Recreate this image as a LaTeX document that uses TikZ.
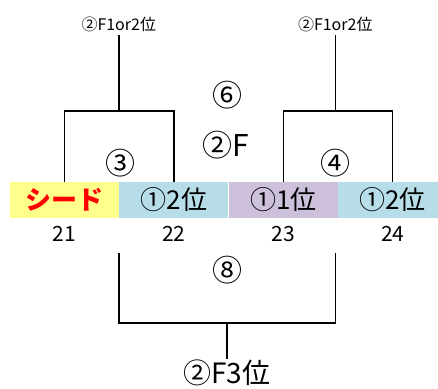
\documentclass[tikz,border=0pt]{standalone}
\usepackage{fontspec}
\setmainfont{Noto Sans CJK JP}
\usetikzlibrary{positioning}
\definecolor{seedyellow}{RGB}{255,255,140}
\definecolor{slotblue}{RGB}{183,221,232}
\definecolor{slotpurple}{RGB}{204,192,218}
\tikzset{
  slot/.style={minimum width=109pt, minimum height=36pt, inner sep=0pt, font=\fontsize{26}{26}\selectfont},
  num/.style={font=\fontsize{21}{21}\selectfont},
  game/.style={font=\fontsize{30}{30}\selectfont},
  from/.style={font=\fontsize{16}{16}\selectfont},
  bracket/.style={line width=1.5pt}
}
\begin{document}
\begin{tikzpicture}[x=1pt,y=-1pt]
  \useasboundingbox (0,0) rectangle (438,388);

  % the four slots
  \node[slot, fill=seedyellow, text=red] (s21) at (64.5,200) {\bfseries シード};
  \node[slot, fill=slotblue, right=0pt of s21] (s22) {①2位};
  \node[slot, fill=slotpurple, right=0pt of s22] (s23) {①1位};
  \node[slot, fill=slotblue, right=0pt of s23] (s24) {①2位};

  \node[num, below=5pt of s21] (n21) {21};
  \node[num, below=5pt of s22] (n22) {22};
  \node[num, below=5pt of s23] (n23) {23};
  \node[num, below=5pt of s24] (n24) {24};

  % game numbers
  \node[game] (g3) at (120,163) {③};
  \node[game] (g4) at (335,163) {④};
  \node[game] (g2f) at (226,145) {②F};
  \node[game] (g6) at (227,95) {⑥};
  \node[game] (g8) at (227,270) {⑧};

  % where the winners come from
  \node[from] (w3) at (118.75,24) {②F1or2位};
  \node[from] (w4) at (335.25,24) {②F1or2位};
  \node[game, font=\fontsize{28}{28}\selectfont, inner sep=1pt] (l8) at (227,373) {②F3位};

  \coordinate (c3) at (118.75,111);
  \coordinate (c4) at (335.25,111);
  \coordinate (b22) at (118.75,253);
  \coordinate (b24) at (335.25,253);
  \coordinate (c8) at (227,323);

  \draw[bracket] (s21.north) |- (c3) -| (s22.north);
  \draw[bracket] (c3) -- (w3.south);
  \draw[bracket] (s23.north) |- (c4) -| (s24.north);
  \draw[bracket] (c4) -- (w4.south);
  \draw[bracket] (b22) |- (c8) -| (b24);
  \draw[bracket] (c8) -- (l8.north);
\end{tikzpicture}
\end{document}
